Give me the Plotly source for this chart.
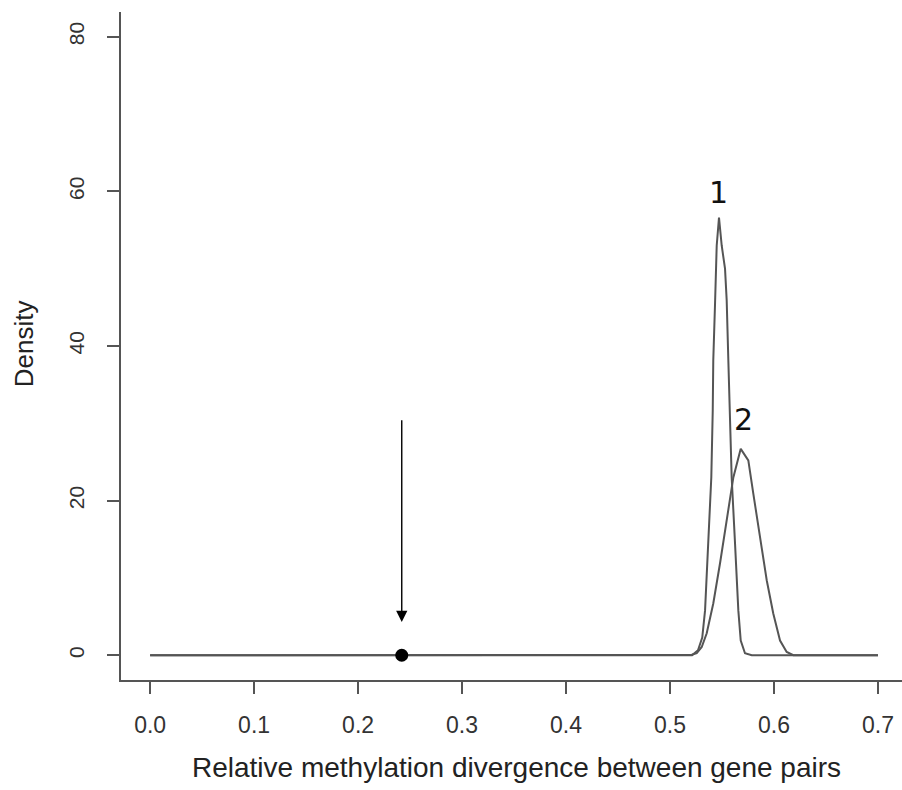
import plotly.graph_objects as go

# ---- data ----
curve1_x = [0.0, 0.5212, 0.5269, 0.5310, 0.5337, 0.5368, 0.5397, 0.5411, 0.5416, 0.5433, 0.5449, 0.5471,
            0.5497, 0.5529, 0.5545, 0.5561, 0.5577, 0.5593, 0.5625, 0.5657, 0.5680, 0.5721, 0.5786, 0.7]
curve1_y = [0.0, 0.0, 0.65, 2.3, 5.8, 14.5, 23.0, 31.7, 38.1, 45.5, 53.0, 56.6,
            53.0, 50.0, 45.9, 38.1, 31.0, 23.0, 14.5, 5.8, 1.9, 0.26, 0.0, 0.0]

curve2_x = [0.0, 0.5096, 0.5209, 0.5257, 0.5305, 0.5353, 0.5416, 0.5481, 0.5545, 0.5609, 0.5680,
            0.5753, 0.5801, 0.5865, 0.5930, 0.5993, 0.6058, 0.6122, 0.6186, 0.7]
curve2_y = [0.0, 0.0, 0.06, 0.26, 1.07, 2.84, 6.7, 11.9, 17.4, 23.0, 26.7,
            25.2, 20.9, 15.2, 9.7, 5.4, 1.9, 0.43, 0.0, 0.0]

observed_x = [0.242]
observed_y = [0.0]

arrow_x = 0.242
arrow_tail_y = 30.6
arrow_tip_y = 4.3

peak_labels = ["1", "2"]
peak_label_x = [0.5471, 0.571]
peak_label_y = [59.8, 30.5]

x_ticks = [0.0, 0.1, 0.2, 0.3, 0.4, 0.5, 0.6, 0.7]
x_tick_text = ["0.0", "0.1", "0.2", "0.3", "0.4", "0.5", "0.6", "0.7"]
y_ticks = [0, 20, 40, 60, 80]
y_tick_text = ["0", "20", "40", "60", "80"]

x_title = "Relative methylation divergence between gene pairs"
y_title = "Density"

# ---- figure ----
line_col = "#555555"
fig = go.Figure()
fig.add_trace(go.Scatter(x=curve1_x, y=curve1_y, mode="lines",
                         line=dict(color=line_col, width=2), hoverinfo="skip"))
fig.add_trace(go.Scatter(x=curve2_x, y=curve2_y, mode="lines",
                         line=dict(color=line_col, width=2), hoverinfo="skip"))
fig.add_trace(go.Scatter(x=observed_x, y=observed_y, mode="markers",
                         marker=dict(color="black", size=13), hoverinfo="skip"))

fig.add_annotation(x=arrow_x, y=arrow_tip_y, ax=arrow_x, ay=arrow_tail_y,
                   xref="x", yref="y", axref="x", ayref="y",
                   text="", showarrow=True, arrowhead=2, arrowsize=1.6,
                   arrowwidth=1.4, arrowcolor="black")

for t, lx, ly in zip(peak_labels, peak_label_x, peak_label_y):
    fig.add_annotation(x=lx, y=ly, xref="x", yref="y", text=t, showarrow=False,
                       font=dict(family="DejaVu Sans", size=30, color="#111"))

fig.add_annotation(x=0.507, y=-0.131, xref="paper", yref="paper", text=x_title,
                   showarrow=False, xanchor="center", yanchor="middle",
                   font=dict(family="Liberation Sans", size=28, color="#222"))
fig.add_annotation(x=-0.124, y=0.503, xref="paper", yref="paper", text=y_title,
                   showarrow=False, xanchor="center", yanchor="middle", textangle=-90,
                   font=dict(family="Liberation Sans", size=26, color="#222"))

axis_common = dict(showgrid=False, zeroline=False, showline=True, linecolor=line_col,
                   linewidth=2, ticks="outside", ticklen=12, tickwidth=2, tickcolor=line_col)

fig.update_xaxes(range=[-0.028, 0.7231], tickvals=x_ticks, ticktext=x_tick_text,
                 ticklabelstandoff=11,
                 tickfont=dict(family="Liberation Sans", size=23, color="#333"), **axis_common)
fig.update_yaxes(range=[-3.2, 83.2], tickvals=y_ticks, ticktext=y_tick_text,
                 tickangle=-90, ticklabelstandoff=15,
                 tickfont=dict(family="Liberation Sans", size=21, color="#333"), **axis_common)

fig.update_layout(width=902, height=790, showlegend=False,
                  margin=dict(l=121, r=0, t=12, b=110),
                  plot_bgcolor="white", paper_bgcolor="white")

fig.write_html("out.html")
